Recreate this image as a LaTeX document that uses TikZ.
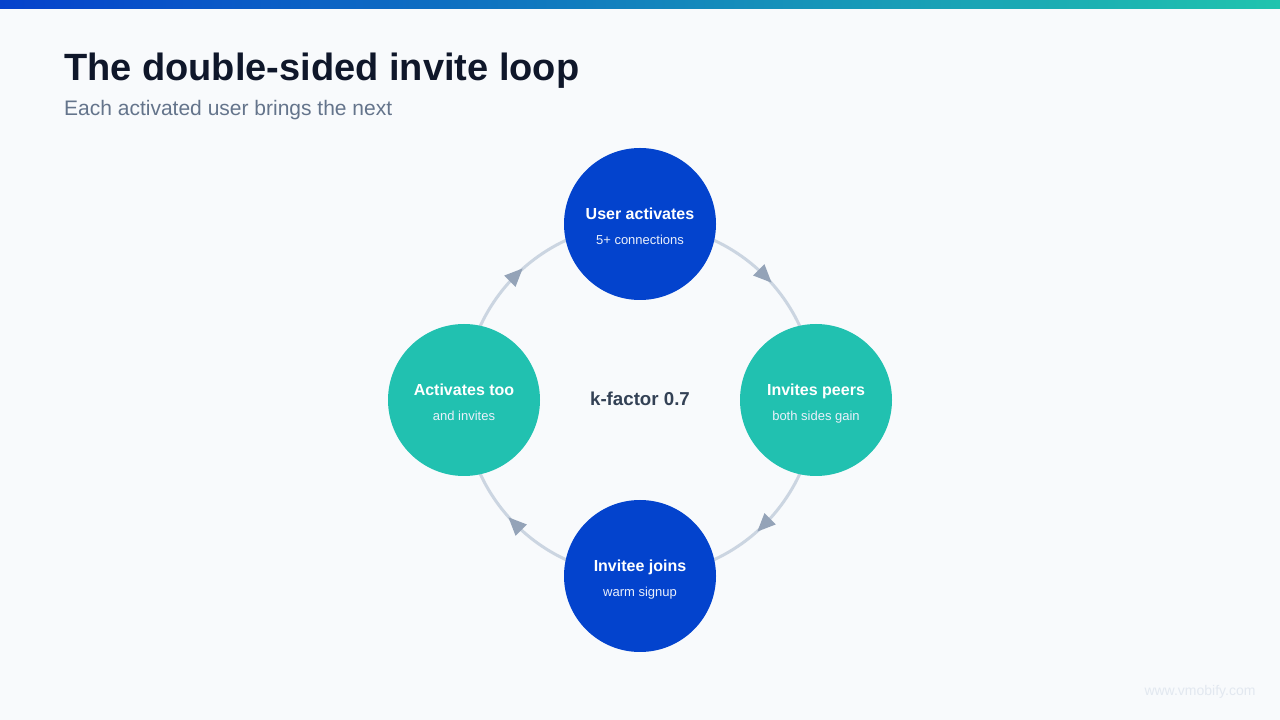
\documentclass[tikz,border=0pt]{standalone}
\usepackage{fontspec}
\setmainfont{Liberation Sans}
\usetikzlibrary{calc}
\definecolor{bg}{HTML}{F8FAFC}
\definecolor{barL}{HTML}{0542CC}
\definecolor{barR}{HTML}{20C4AE}
\definecolor{navy}{HTML}{0F172A}
\definecolor{subgray}{HTML}{64748B}
\definecolor{ringc}{HTML}{CBD5E1}
\definecolor{arrowc}{HTML}{94A3B8}
\definecolor{bluec}{HTML}{0343CD}
\definecolor{tealc}{HTML}{21C1B0}
\definecolor{kc}{HTML}{334155}
\definecolor{wm}{HTML}{E2E8F0}
\tikzset{
  stage/.style={circle, minimum size=152pt, inner sep=0pt, draw=none},
  bluestage/.style={stage, fill=bluec},
  tealstage/.style={stage, fill=tealc},
  stagehead/.style={font=\fontsize{16}{19}\selectfont\bfseries, text=white, anchor=base},
  stagesub/.style={font=\fontsize{13}{15}\selectfont, text=white!92!bluec, anchor=base},
  ring/.style={draw=ringc, line width=3pt},
  arrowtri/.style={fill=arrowc},
}
\begin{document}
\begin{tikzpicture}[x=1pt,y=1pt]
\useasboundingbox (0,0) rectangle (1280,720);
\fill[bg] (0,0) rectangle (1280,720);
\shade[left color=barL, right color=barR] (0,711) rectangle (1280,720);
% titles
\node[anchor=base west, inner sep=0pt, text=navy, font=\fontsize{38}{45}\selectfont\bfseries] (title) at (64,639) {The double-sided invite loop};
\node[anchor=base west, inner sep=0pt, text=subgray, font=\fontsize{21}{25}\selectfont] (subtitle) at (64,604) {Each activated user brings the next};
% ring
\coordinate (ctr) at (640,320);
\draw[ring] (ctr) circle[radius=176];
% arrowheads (clockwise)
\foreach \a in {45,-45,-135,135}{
  \fill[arrowtri, shift={($(ctr)+(\a:176)$)}, rotate=\a-90] (10,0) -- (-8,8) -- (-8,-8) -- cycle;
}
% stages
\node[bluestage] (top) at (640,496) {};
\node[tealstage] (right) at (816,320) {};
\node[bluestage] (bottom) at (640,144) {};
\node[tealstage] (left) at (464,320) {};
\node[stagehead] (toph) at ($(top)+(0,4)$) {User activates};
\node[stagesub] (tops) at ($(top)+(0,-21)$) {5+ connections};
\node[stagehead] (righth) at ($(right)+(0,4)$) {Invites peers};
\node[stagesub] (rights) at ($(right)+(0,-21)$) {both sides gain};
\node[stagehead] (bottomh) at ($(bottom)+(0,4)$) {Invitee joins};
\node[stagesub] (bottoms) at ($(bottom)+(0,-21)$) {warm signup};
\node[stagehead] (lefth) at ($(left)+(0,4)$) {Activates too};
\node[stagesub] (lefts) at ($(left)+(0,-21)$) {and invites};
% center
\node[anchor=base, text=kc, font=\fontsize{18.7}{22}\selectfont\bfseries] (kf) at (640,314) {k-factor 0.7};
% watermark
\node[anchor=base, text=wm, font=\fontsize{14}{16}\selectfont] (wmark) at (1200,24) {www.vmobify.com};
\end{tikzpicture}
\end{document}
